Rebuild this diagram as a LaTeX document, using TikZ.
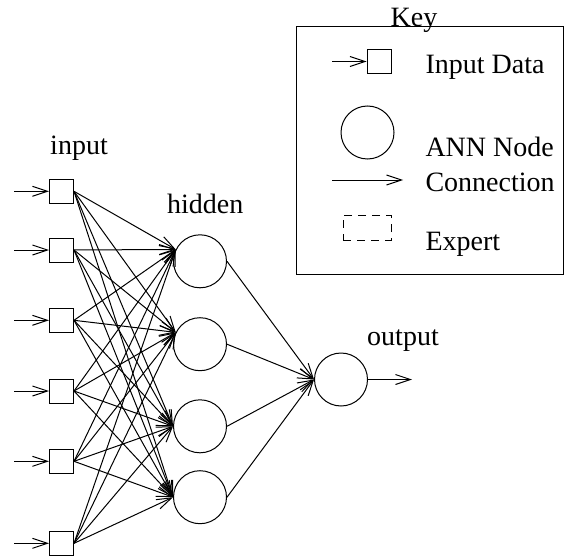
\documentclass[tikz,border=0pt]{standalone}
\usepackage{fontspec}
\setmainfont{Liberation Serif}
\usetikzlibrary{arrows.meta}
\begin{document}
\begin{tikzpicture}[x=1pt, y=-1pt, line width=1pt,
    every node/.style={font=\fontsize{28}{30}\selectfont, inner sep=0pt},
    conn/.style={-{Straight Barb[length=15pt,width=10pt]}},
    inbox/.style={draw, minimum size=24pt},
    ann/.style={draw, circle, minimum size=53pt}]
    \useasboundingbox (0,0) rectangle (564,556);

    % Ingressi
    \foreach \y [count=\i] in {191.3,250,320.3,391,461.3,543.3} {
        \node[inbox] (in\i) at (61.5,\y) {};
        \coordinate (src\i) at (14,\y);
        \draw[conn] (src\i) -- (in\i);
    }
    \node[anchor=base] (lblin) at (79,155) {input};

    % Strato nascosto
    \foreach \y [count=\j] in {261.3,344.2,426.3,497.2}
        \node[ann] (hid\j) at (200,\y) {};
    \node[anchor=base] (lblhid) at (205.3,213.3) {hidden};

    \foreach \i in {1,...,6}
        \foreach \j/\a in {1/154,2/154,3/180,4/180}
            \draw[conn] (in\i.east) -- (hid\j.\a);

    % Uscita
    \node[ann] (out) at (341,379.5) {};
    \node[anchor=base] (lblout) at (403,345) {output};
    \foreach \j in {1,...,4}
        \draw[conn] (hid\j.east) -- (out.west);
    \coordinate (dest) at (412,379.5);
    \draw[conn] (out.east) -- (dest);

    % Legenda
    \node[draw, minimum width=267pt, minimum height=247pt] (key) at (429.5,150.5) {};
    \node[anchor=base] (keylbl) at (414,27) {Key};

    \node[inbox] (keybox) at (379,61.5) {};
    \coordinate (keysrc) at (332,61.5);
    \draw[conn] (keysrc) -- (keybox);
    \node[anchor=base west] (txtin) at (425,73.3) {Input Data};

    \node[ann] (keyann) at (367.5,132.5) {};
    \node[anchor=base west] (txtann) at (425,156.7) {ANN Node};

    \coordinate (keyc1) at (332,180);
    \coordinate (keyc2) at (403,180);
    \draw[conn] (keyc1) -- (keyc2);
    \node[anchor=base west] (txtconn) at (425,191.7) {Connection};

    \node[draw, dash pattern=on 8pt off 6pt, minimum width=48pt, minimum height=25pt] (keyexp) at (367,227.5) {};
    \node[anchor=base west] (txtexp) at (425,250) {Expert};
\end{tikzpicture}
\end{document}
